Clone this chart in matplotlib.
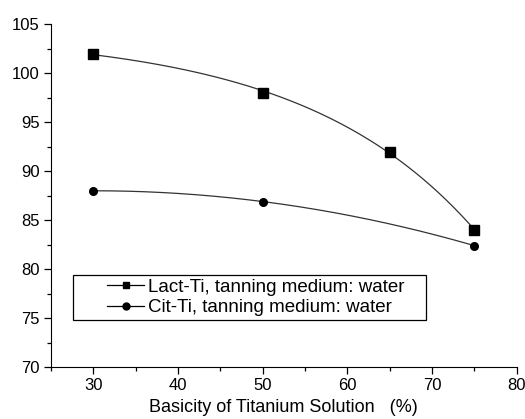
import numpy as np
import matplotlib.pyplot as plt
from matplotlib.patches import Rectangle

plt.rcParams['font.family'] = ['Liberation Sans', 'DejaVu Sans']

# basicity (%) and shrinkage temperature readings
lact_x = [30, 50, 65, 75]
lact_y = [102, 98, 92, 84]
cit_x = [30, 50, 75]
cit_y = [88, 86.9, 82.4]


def expdec_fit(x, y, xs):
    # y = y0 - A*exp(x/t), least squares over a grid of t
    x = np.asarray(x, float)
    y = np.asarray(y, float)
    best = None
    for t in np.linspace(5, 200, 800):
        M = np.column_stack([np.ones_like(x), -np.exp(x / t)])
        coef, res, *_ = np.linalg.lstsq(M, y, rcond=None)
        err = np.sum((M @ coef - y) ** 2)
        if best is None or err < best[0]:
            best = (err, t, coef)
    _, t, (y0, a) = best
    return y0 - a * np.exp(xs / t)


fig = plt.figure(figsize=(5.25, 4.19), dpi=100)
ax = fig.add_axes([0.097, 0.124, 0.887, 0.818])

xs = np.linspace(30, 75, 200)
lact_fit = expdec_fit(lact_x, lact_y, xs)
cit_fit = np.polyval(np.polyfit(cit_x, cit_y, 2), xs)
ax.plot(xs, lact_fit, color='#333333', lw=0.9)
ax.plot(xs, cit_fit, color='#333333', lw=0.9)

ax.plot(lact_x, lact_y, 's', color='black', ms=7)
ax.plot(cit_x, cit_y, 'o', color='black', ms=5.5)

# legend proxies: line-marker-line, with a separately drawn box
l1, = ax.plot([], [], '-s', color='black', ms=5, lw=0.9)
l2, = ax.plot([], [], '-o', color='black', ms=5, lw=0.9)
ax.legend([l1, l2], ['Lact-Ti, tanning medium: water', 'Cit-Ti, tanning medium: water'],
          loc='center left', bbox_to_anchor=(0.12, 0.203), fontsize=13.5,
          frameon=False, handlelength=2.0, borderpad=0, labelspacing=0.18,
          handletextpad=0.2, borderaxespad=0)
ax.add_patch(Rectangle((0.047, 0.137), 0.759, 0.131, transform=ax.transAxes,
                       fill=False, edgecolor='black', lw=0.9))

ax.set_xlim(25, 80)
ax.set_ylim(70, 105)
ax.set_xticks([30, 40, 50, 60, 70, 80])
ax.set_xticks([25, 35, 45, 55, 65, 75], minor=True)
ax.set_yticks([70, 75, 80, 85, 90, 95, 100, 105])
ax.set_yticks(np.arange(72.5, 105, 5), minor=True)
ax.spines['top'].set_visible(False)
ax.spines['right'].set_visible(False)
ax.tick_params(labelsize=12, length=5, width=0.9, pad=3)
ax.tick_params(which='minor', length=3, width=0.9)
ax.set_xlabel('Basicity of Titanium Solution   (%)', fontsize=13, labelpad=4)

fig.savefig('out.png', dpi=100)
